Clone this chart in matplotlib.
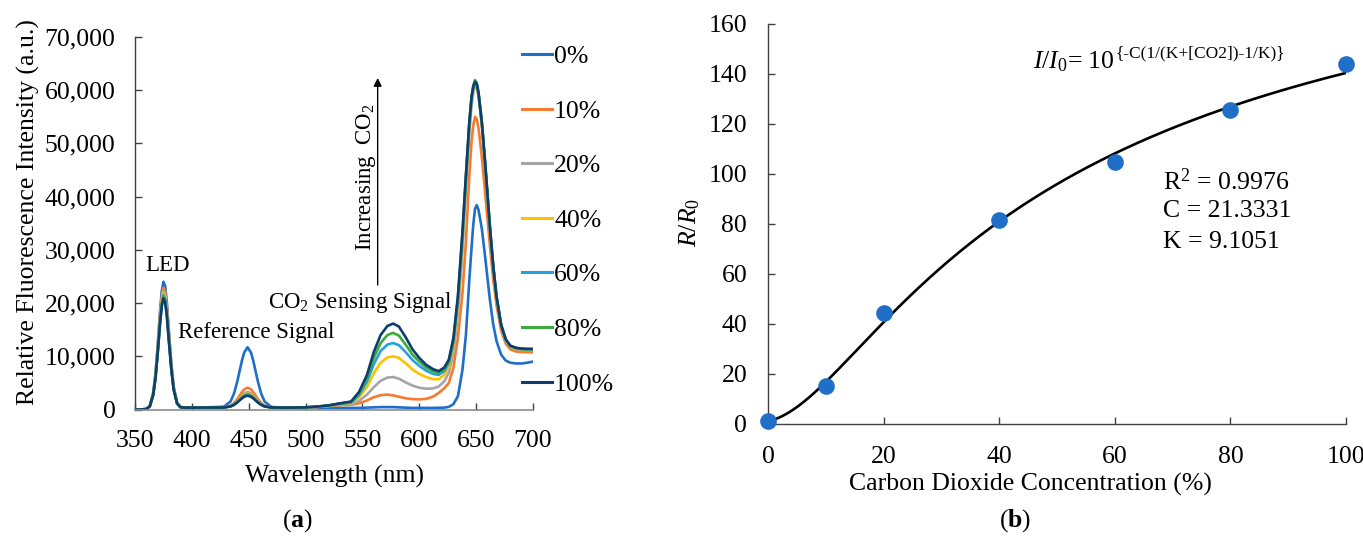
import matplotlib
matplotlib.use("Agg")
import matplotlib.pyplot as plt
import numpy as np
from matplotlib.ticker import FuncFormatter, MultipleLocator

plt.rcParams['font.family'] = ['Liberation Serif', 'DejaVu Serif']
plt.rcParams['mathtext.fontset'] = 'custom'
plt.rcParams['mathtext.rm'] = 'Liberation Serif'
plt.rcParams['mathtext.it'] = 'Liberation Serif:italic'
plt.rcParams['mathtext.bf'] = 'Liberation Serif:bold'

# ---------------- (a) emission spectra ----------------
wavelength = [350, 355, 360, 363, 366, 368, 370, 372, 373.5, 375, 376.5, 378, 380, 382, 384, 387, 390, 394, 400,
              410, 420, 428, 434, 437, 440, 442, 444, 446, 449, 452, 454, 456, 458, 461, 464, 470, 480,
              490, 500, 510, 520, 530,
              540, 547, 554, 560, 566, 572, 577, 582, 588, 594, 600, 606, 612, 617, 622, 626,
              630, 634, 638, 641, 644, 646, 647.5, 649, 650.5, 652, 655, 658, 662, 665, 668, 672, 676, 680,
              685, 690, 695, 700]

co2_0 = [0, 0, 100, 670, 3120, 6720, 12240, 18480, 22220, 24000, 23210, 20160, 14160, 8500, 4300, 1200, 450, 380, 380,
         400, 450, 520, 1500, 2960, 5310, 7240, 9150, 10700, 11700, 10700, 9150, 7240, 5310, 2960, 1500, 480, 350,
         320, 300, 300, 300, 300,
         300, 300, 350, 400, 450, 450, 450, 400, 350, 300, 300, 300, 300, 320, 350, 500,
         1000, 2500, 7500, 14000, 24400, 30500, 34800, 37700, 38400, 37600, 34000, 28500, 20800, 16000, 12800, 10300, 9200, 8800,
         8650, 8650, 8800, 9000]
co2_10 = [0, 0, 100, 640, 2980, 6410, 11680, 17630, 21210, 22900, 22140, 19240, 13510, 8100, 4100, 1200, 440, 360, 360,
          370, 380, 390, 730, 1210, 1990, 2630, 3260, 3770, 4100, 3770, 3260, 2630, 1990, 1210, 730, 390, 350,
          350, 380, 450, 600, 800,
          900, 1150, 1700, 2300, 2700, 2800, 2650, 2400, 2100, 1950, 1900, 2000, 2400, 3100, 4000, 5000,
          7800, 13500, 22000, 31500, 44000, 50500, 53400, 55000, 54600, 53000, 47500, 40500, 31000, 24500, 19500, 14800, 12400, 11300,
          10900, 10800, 10750, 10750]
co2_20 = [0, 0, 90, 620, 2900, 6240, 11370, 17170, 20650, 22300, 21560, 18730, 13160, 7900, 4000, 1190, 430, 350, 350,
          360, 370, 380, 650, 1030, 1640, 2140, 2640, 3040, 3300, 3040, 2640, 2140, 1640, 1030, 650, 380, 350,
          350, 400, 500, 700, 900,
          1000, 1600, 2800, 4200, 5400, 6000, 6100, 5800, 5100, 4500, 4100, 3900, 3950, 4300, 5300, 6900,
          10500, 18000, 30000, 41000, 51800, 57300, 59600, 60800, 60500, 59000, 53400, 45600, 34200, 26700, 20800, 15600, 12900, 11700,
          11300, 11200, 11150, 11150]
co2_40 = [0, 0, 90, 610, 2850, 6130, 11170, 16860, 20280, 21900, 21180, 18400, 12920, 7770, 3920, 1180, 430, 350, 350,
          360, 370, 380, 620, 960, 1510, 1960, 2400, 2770, 3000, 2770, 2400, 1960, 1510, 960, 620, 380, 350,
          360, 400, 520, 720, 1000,
          1200, 2300, 4200, 6800, 8800, 9800, 10000, 9700, 8700, 7500, 6700, 6100, 5700, 5700, 6500, 8000,
          11800, 19500, 31500, 42500, 53000, 58200, 60300, 61300, 61000, 59300, 53600, 45800, 34300, 26800, 20900, 15700, 13000, 11800,
          11400, 11300, 11250, 11250]
co2_60 = [0, 0, 90, 600, 2800, 6020, 10970, 16560, 19910, 21500, 20790, 18060, 12690, 7630, 3860, 1160, 430, 350, 350,
          360, 370, 380, 600, 925, 1440, 1870, 2290, 2630, 2850, 2630, 2290, 1870, 1440, 925, 600, 380, 350,
          360, 400, 530, 730, 1050,
          1300, 2700, 5200, 8500, 11000, 12200, 12500, 12100, 10800, 9300, 8200, 7300, 6700, 6500, 7200, 8700,
          12500, 20300, 32300, 43200, 53500, 58500, 60500, 61500, 61100, 59500, 53800, 45900, 34400, 26900, 21000, 15800, 13100, 11900,
          11500, 11350, 11300, 11300]
co2_80 = [0, 0, 80, 590, 2760, 5940, 10810, 16320, 19630, 21200, 20500, 17810, 12510, 7520, 3800, 1150, 430, 350, 350,
          360, 370, 375, 585, 890, 1380, 1780, 2170, 2490, 2700, 2490, 2170, 1780, 1380, 890, 585, 375, 350,
          360, 400, 540, 750, 1100,
          1400, 3000, 5900, 9700, 12500, 14000, 14400, 13900, 12200, 10300, 9000, 7900, 7200, 6900, 7600, 9100,
          13000, 21000, 33000, 43800, 54000, 58900, 60900, 61900, 61400, 59800, 54100, 46100, 34600, 27000, 21100, 15900, 13200, 12000,
          11550, 11400, 11350, 11350]
co2_100 = [0, 0, 80, 590, 2720, 5850, 10660, 16090, 19350, 20900, 20210, 17560, 12330, 7420, 3750, 1140, 430, 350, 350,
           360, 370, 375, 575, 870, 1330, 1720, 2090, 2400, 2600, 2400, 2090, 1720, 1330, 870, 575, 375, 350,
           360, 400, 550, 760, 1150,
           1500, 3300, 6500, 10800, 14000, 15700, 16150, 15600, 13600, 11300, 9700, 8400, 7600, 7200, 7900, 9400,
           13400, 21400, 33500, 44000, 54000, 58800, 60700, 61600, 61200, 59600, 54000, 46100, 34600, 27000, 21100, 15900, 13200, 12000,
           11600, 11450, 11400, 11400]

series_labels = ['0%', '10%', '20%', '40%', '60%', '80%', '100%']
series_colors = ['#1f6fc8', '#f47b30', '#a5a5a5', '#ffc000', '#26a0e0', '#3caa3c', '#0f3e6e']
spectra = [co2_0, co2_10, co2_20, co2_40, co2_60, co2_80, co2_100]

# ---------------- (b) calibration ----------------
conc = [0, 10, 20, 40, 60, 80, 100]
ratio = [1.1, 15.1, 44.6, 81.6, 104.9, 125.5, 144.0]
fit_C = 21.3331
fit_K = 9.1051
fit_r2 = 0.9976

W, H = 1363, 536
fig = plt.figure(figsize=(W / 100, H / 100), dpi=100)

FS = 18.5
AFS = 16.5
dark = '#404040'

def frac_box(x0, y0, x1, y1):
    return [x0 / W, 1 - y1 / H, (x1 - x0) / W, (y1 - y0) / H]

ax1 = fig.add_axes(frac_box(135, 37, 533, 409.5))
for vals, lab, col in zip(spectra, series_labels, series_colors):
    ax1.plot(wavelength, vals, color=col, lw=1.9, label=lab, solid_joinstyle='round')
ax1.set_xlim(350, 700)
ax1.set_ylim(0, 70000)
ax1.xaxis.set_major_locator(MultipleLocator(50))
ax1.yaxis.set_major_locator(MultipleLocator(10000))
ax1.yaxis.set_major_formatter(FuncFormatter(lambda v, p: f'{int(v):,}'))
for s in ('top', 'right'):
    ax1.spines[s].set_visible(False)
ax1.spines['left'].set_color(dark)
ax1.spines['bottom'].set_color('#8c8c8c')
ax1.spines['left'].set_linewidth(1.0)
ax1.spines['bottom'].set_linewidth(1.2)
ax1.tick_params(axis='both', direction='in', length=5, width=1, labelsize=FS, colors=dark, labelcolor='black')
ax1.tick_params(axis='y', pad=14)
ax1.tick_params(axis='x', pad=15)
ax1.set_xlabel('Wavelength (nm)', fontsize=FS, va='center', ha='center')
ax1.xaxis.set_label_coords(0.502, (409.5 - 476) / 372.5)
ax1.set_ylabel('Relative Fluorescence Intensity (a.u.)', fontsize=FS, va='center', ha='center')
ax1.yaxis.set_label_coords((28 - 135) / 398, (409.5 - 212) / 372.5)

ax1.text(378.2, 26970, 'LED', fontsize=AFS, ha='center', va='center')
ax1.text(388.1, 14400, 'Reference Signal', fontsize=AFS, ha='left', va='center')
ax1.text(466.7, 20200, 'CO$_2$ Sensing Signal', fontsize=AFS, ha='left', va='center')
ax1.text(553.5, 43700, 'Increasing  CO$_2$', fontsize=AFS, ha='center', va='center', rotation=90)
ax1.annotate('', xy=(563.4, 62300), xytext=(563.4, 23400),
             arrowprops=dict(arrowstyle='-|>', lw=1.0, color='black', mutation_scale=12,
                             shrinkA=0, shrinkB=0))

leg = fig.legend(*ax1.get_legend_handles_labels(), loc='upper left',
                 bbox_to_anchor=(522 / W, 1 - 45 / H), frameon=False, fontsize=FS,
                 handlelength=1.15, handletextpad=0.1, labelspacing=1.23, borderpad=0,
                 borderaxespad=0)
for ln in leg.get_lines():
    ln.set_linewidth(2.2)

fig.text(297 / W, 1 - 521 / H, r'($\mathbf{a}$)', fontsize=FS, ha='center', va='center')

# ---------------- (b) ----------------
ax2 = fig.add_axes(frac_box(768, 24, 1346, 424))
xs = np.linspace(0, 100, 400)
fit_curve = 10 ** (-fit_C * (1.0 / (fit_K + xs) - 1.0 / fit_K))
ax2.plot(xs, fit_curve, color='black', lw=1.9, zorder=2)
ax2.plot(conc, ratio, 'o', color='#1f6fc8', ms=12, mec='none', zorder=3, clip_on=False)
ax2.set_xlim(0, 100)
ax2.set_ylim(0, 160)
ax2.xaxis.set_major_locator(MultipleLocator(20))
ax2.yaxis.set_major_locator(MultipleLocator(20))
for s in ('top', 'right'):
    ax2.spines[s].set_visible(False)
for s in ('left', 'bottom'):
    ax2.spines[s].set_color(dark)
    ax2.spines[s].set_linewidth(1.0)
ax2.tick_params(axis='both', direction='in', length=5, width=1, labelsize=FS, colors=dark, labelcolor='black')
ax2.tick_params(axis='y', pad=15)
ax2.tick_params(axis='x', pad=15.5)
ax2.set_xlabel('Carbon Dioxide Concentration (%)', fontsize=FS, va='center', ha='center')
ax2.xaxis.set_label_coords((1030 - 768) / 578, (424 - 484) / 400)
ax2.set_ylabel(r'$\mathit{R/R_0}$', fontsize=FS, va='center', ha='center')
ax2.yaxis.set_label_coords((690 - 768) / 578, (424 - 222) / 400)

eq = ax2.text(45.8, 144.8, r'$\mathit{I/I_0}$= 10', fontsize=FS, ha='left', va='center')
ax2.annotate('{-C(1/(K+[CO2])-1/K)}', xy=(1, 1), xycoords=eq, xytext=(0.5, 3),
             textcoords='offset points', ha='left', va='top', fontsize=12.5)
ax2.text(68.3, 96.8, f'R$^2$ = {fit_r2}', fontsize=FS, ha='left', va='center')
ax2.text(68.3, 85.2, f'C = {fit_C}', fontsize=FS, ha='left', va='center')
ax2.text(68.3, 72.8, f'K = {fit_K}', fontsize=FS, ha='left', va='center')

fig.text(1015 / W, 1 - 521 / H, r'($\mathbf{b}$)', fontsize=FS, ha='center', va='center')

fig.savefig('out.png', dpi=100)
